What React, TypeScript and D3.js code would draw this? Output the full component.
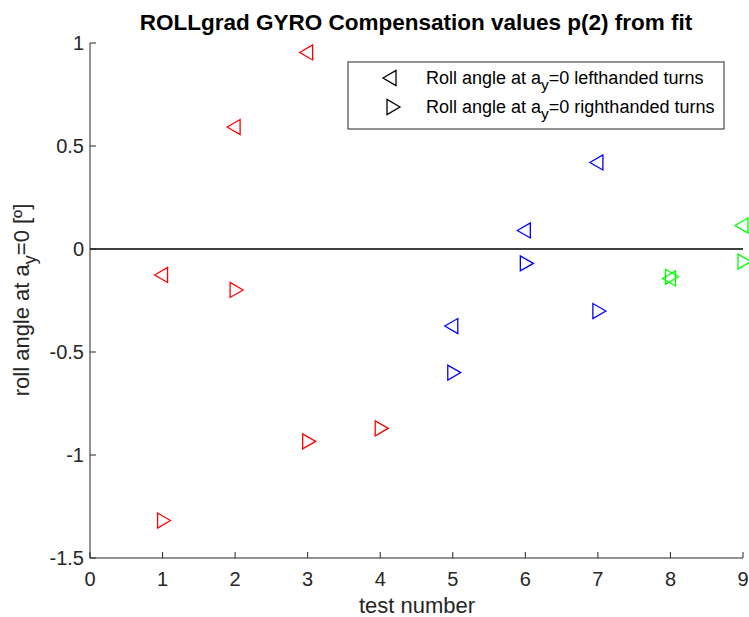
import React from "react";
import * as d3 from "d3";

// Test numbers and fitted roll angle offsets (deg) at a_y = 0
const leftTests = [1, 2, 3, 5, 6, 7, 8, 9];
const leftValues = [-0.126, 0.592, 0.954, -0.374, 0.09, 0.42, -0.143, 0.114];
const leftColors = ["#ff0000", "#ff0000", "#ff0000", "#0000ff", "#0000ff", "#0000ff", "#00ff00", "#00ff00"];

const rightTests = [1, 2, 3, 4, 5, 6, 7, 8, 9];
const rightValues = [-1.318, -0.199, -0.934, -0.871, -0.6, -0.07, -0.301, -0.135, -0.061];
const rightColors = ["#ff0000", "#ff0000", "#ff0000", "#ff0000", "#0000ff", "#0000ff", "#0000ff", "#00ff00", "#00ff00"];

const xTicks = [0, 1, 2, 3, 4, 5, 6, 7, 8, 9];
const yTicks = [1, 0.5, 0, -0.5, -1, -1.5];

const W = 749;
const H = 617;
const M = { left: 90, right: 743, top: 43, bottom: 558 };
const FONT = "'Liberation Sans', Arial, Helvetica, sans-serif";
const AXIS = "#262626";

// Triangle marker paths: tip 8px from centre, base 5px behind, half-height 7.5
const leftTri = (x: number, y: number) =>
  `M${x - 8},${y} L${x + 5},${y - 7.5} L${x + 5},${y + 7.5} Z`;
const rightTri = (x: number, y: number) =>
  `M${x + 8},${y} L${x - 5},${y - 7.5} L${x - 5},${y + 7.5} Z`;

export default function App() {
  const x = d3.scaleLinear().domain([0, 9]).range([M.left, M.right]);
  const y = d3.scaleLinear().domain([-1.5, 1]).range([M.bottom, M.top]);
  const fmt = (v: number) => (v === 0 ? "0" : String(v));

  return (
    <svg width={W} height={H} style={{ position: "absolute", left: 0, top: 0, background: "#fff" }}>
      <rect x={0} y={0} width={W} height={H} fill="#fff" />
      {/* title */}
      <text x={416} y={30} textAnchor="middle" fontFamily={FONT} fontWeight="bold" fontSize={22.5} fill="#000">
        ROLLgrad GYRO Compensation values p(2) from fit
      </text>

      {/* zero line */}
      <line x1={x(0)} x2={x(9)} y1={y(0)} y2={y(0)} stroke="#000" strokeWidth={1.3} />

      {/* axes */}
      <line x1={M.left} x2={M.right} y1={M.bottom} y2={M.bottom} stroke={AXIS} strokeWidth={1} />
      <line x1={M.left} x2={M.left} y1={M.top} y2={M.bottom} stroke={AXIS} strokeWidth={1} />
      {xTicks.map((t) => (
        <g key={"x" + t}>
          <line x1={x(t)} x2={x(t)} y1={M.bottom} y2={M.bottom - 6} stroke={AXIS} />
          <text x={x(t)} y={M.bottom + 28} textAnchor="middle" fontFamily={FONT} fontSize={20} fill={AXIS}>
            {fmt(t)}
          </text>
        </g>
      ))}
      {yTicks.map((t) => (
        <g key={"y" + t}>
          <line x1={M.left} x2={M.left + 6} y1={y(t)} y2={y(t)} stroke={AXIS} />
          <text x={M.left - 6} y={y(t) + 7} textAnchor="end" fontFamily={FONT} fontSize={20} fill={AXIS}>
            {fmt(t)}
          </text>
        </g>
      ))}

      {/* axis labels */}
      <text x={417} y={613} textAnchor="middle" fontFamily={FONT} fontSize={22} fill={AXIS}>
        test number
      </text>
      <text transform={`translate(29,300) rotate(-90)`} textAnchor="middle" fontFamily={FONT} fontSize={22} fill={AXIS}>
        roll angle at a<tspan dy={7} fontSize={18}>y</tspan><tspan dy={-7}>=0 [º]</tspan>
      </text>

      {/* data markers */}
      {leftTests.map((t, i) => (
        <path key={"l" + i} d={leftTri(x(t), y(leftValues[i]))} fill="none" stroke={leftColors[i]} strokeWidth={1.3} />
      ))}
      {rightTests.map((t, i) => (
        <path key={"r" + i} d={rightTri(x(t), y(rightValues[i]))} fill="none" stroke={rightColors[i]} strokeWidth={1.3} />
      ))}

      {/* legend */}
      <rect x={348} y={62} width={376} height={67} fill="#fff" stroke={AXIS} strokeWidth={1} />
      <path d={leftTri(391, 78)} fill="none" stroke="#000" strokeWidth={1.3} />
      <path d={rightTri(392, 107)} fill="none" stroke="#000" strokeWidth={1.3} />
      <text x={426} y={84} fontFamily={FONT} fontSize={18} fill="#000">
        Roll angle at a<tspan dy={6} fontSize={15.5}>y</tspan><tspan dy={-6}>=0 lefthanded turns</tspan>
      </text>
      <text x={426} y={113} fontFamily={FONT} fontSize={18} fill="#000">
        Roll angle at a<tspan dy={6} fontSize={15.5}>y</tspan><tspan dy={-6}>=0 righthanded turns</tspan>
      </text>
    </svg>
  );
}
